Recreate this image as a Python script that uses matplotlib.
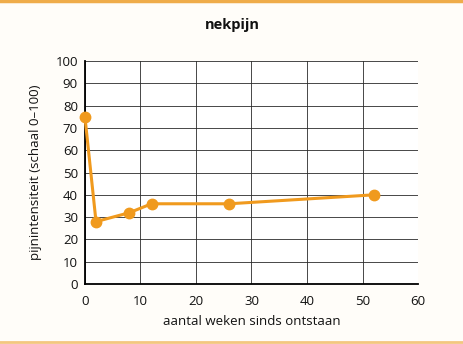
import matplotlib
matplotlib.use('Agg')
import matplotlib.pyplot as plt
from matplotlib.lines import Line2D

# pain score over time
weeks = [0, 2, 8, 12, 26, 52]
pain = [75, 28, 32, 36, 36, 40]
xticks = [0, 10, 20, 30, 40, 50, 60]
yticks = list(range(0, 101, 10))

orange = '#f09a1e'
plt.rcParams['font.family'] = ['Open Sans', 'DejaVu Sans']

fig = plt.figure(figsize=(4.64, 3.44), dpi=100)
fig.patch.set_facecolor('#fffdf9')
ax = fig.add_axes([0.183, 0.174, 0.718, 0.649])
ax.set_facecolor('white')

ax.plot(weeks, pain, color=orange, lw=2.2, marker='o', ms=7.5, clip_on=False, zorder=3)

ax.set_xlim(0, 60)
ax.set_ylim(0, 100)
ax.set_xticks(xticks)
ax.set_yticks(yticks)
ax.grid(True, color='#2a2a2a', lw=0.6)
ax.set_axisbelow(True)
for s in ['top', 'right']:
    ax.spines[s].set_visible(False)
for s in ['left', 'bottom']:
    ax.spines[s].set_linewidth(1.3)
    ax.spines[s].set_color('black')
ax.tick_params(axis='x', length=0, labelsize=9.5, colors='#111111', pad=8)
ax.tick_params(axis='y', length=0, labelsize=9.5, colors='#111111', pad=5)

ax.set_xlabel('aantal weken sinds ontstaan', fontsize=9.5, color='#111111', labelpad=5)
ax.set_ylabel('pijnintensiteit (schaal 0–100)', fontsize=9.5, color='#111111', labelpad=10)
fig.text(0.5, 0.927, 'nekpijn', ha='center', va='center', fontsize=10.5, fontweight='bold', color='#111111')

fig.add_artist(Line2D([0, 1], [0.996, 0.996], color='#efac4a', lw=2.5, transform=fig.transFigure))
fig.add_artist(Line2D([0, 1], [0.006, 0.006], color='#f3c77f', lw=2, transform=fig.transFigure))

fig.savefig('out.png', dpi=100, facecolor=fig.get_facecolor())
